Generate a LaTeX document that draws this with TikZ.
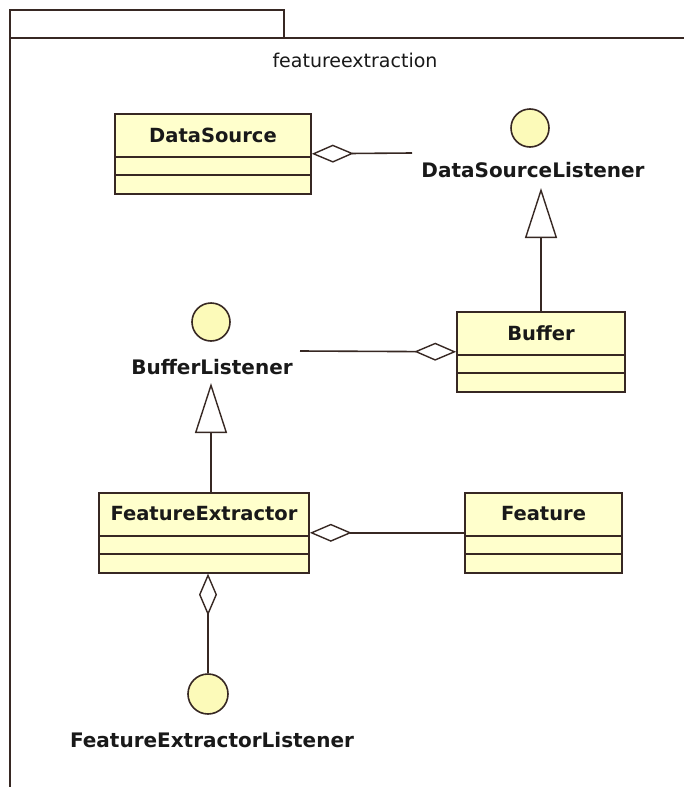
\documentclass[tikz,border=0pt]{standalone}
\usepackage{fontspec}
\setmainfont{DejaVu Sans}
\usetikzlibrary{arrows.meta,calc}
\definecolor{boxfill}{RGB}{255,255,204}
\definecolor{circfill}{RGB}{252,250,185}
\definecolor{lncol}{RGB}{55,40,35}
\definecolor{txtcol}{RGB}{25,25,25}
\tikzset{
  ln/.style={draw=lncol, line width=1.6pt},
  cbox/.style={ln, fill=boxfill, rectangle, inner sep=0pt, minimum height=80pt},
  cname/.style={font=\fontsize{19.5}{22}\selectfont\bfseries, text=txtcol, inner sep=0pt},
  iface/.style={ln, fill=circfill, circle, inner sep=0pt, minimum size=38pt},
  ilabel/.style={font=\fontsize{20}{22}\selectfont\bfseries, text=txtcol, inner sep=0pt},
  agg/.style={ln, {Diamond[open, length=42pt, width=18pt, line width=1.4pt]}-},
  gen/.style={ln, -{Triangle[open, length=50pt, width=32pt, line width=1.4pt]}},
}
\newcommand{\umlclass}[5]{%
  \node[cbox, minimum width=#4, anchor=north] (#1) at (#2,#3) {};
  \node[cname] (#1-t) at ($(#1.north)+(0,22)$) {#5};
  \draw[ln] ($(#1.north west)+(0,44)$) -- ($(#1.north east)+(0,44)$);
  \draw[ln] ($(#1.north west)+(0,62)$) -- ($(#1.north east)+(0,62)$);
}
\begin{document}
\begin{tikzpicture}[x=1pt,y=-1pt]
\useasboundingbox (0,0) rectangle (684,787);
\fill[white] (0,0) rectangle (684,787);
% package frame
\draw[ln, line width=1.7pt] (10,787) -- (10,38) -- (684,38);
\draw[ln, line width=1.7pt] (10,38) -- (10,10) -- (284,10) -- (284,38);
\node[font=\fontsize{19}{21}\selectfont, text=txtcol, inner sep=0pt] (pkg) at (355,60) {featureextraction};
% classes
\umlclass{ds}{213}{113}{196}{DataSource}
\umlclass{buf}{541}{311}{168}{Buffer}
\umlclass{fe}{204}{492}{210}{FeatureExtractor}
\umlclass{feat}{543.5}{492}{157}{Feature}
% interfaces
\node[iface] (dslc) at (530,128) {};
\node[ilabel] (dsl) at (533,170) {DataSourceListener};
\node[iface] (blc) at (211,322) {};
\node[ilabel] (bl) at (212,367) {BufferListener};
\node[iface, minimum size=40pt] (felc) at (208,694) {};
\node[ilabel] (fel) at (212,740) {FeatureExtractorListener};
% free ends
\coordinate (dsl-end) at (412,153);
\coordinate (bl-end) at (300,351);
\coordinate (dsl-tip) at (541,188);
\coordinate (bl-tip) at (211,383);
% connectors
\draw[agg] (ds.east) -- (dsl-end);
\draw[agg] (buf.west) -- (bl-end);
\draw[gen] (buf.north) -- (dsl-tip);
\draw[gen] (fe.north -| bl-tip) -- (bl-tip);
\draw[agg] (fe.east) -- (feat.west);
\draw[agg] (fe.south -| felc) -- (felc.north);
\end{tikzpicture}
\end{document}
